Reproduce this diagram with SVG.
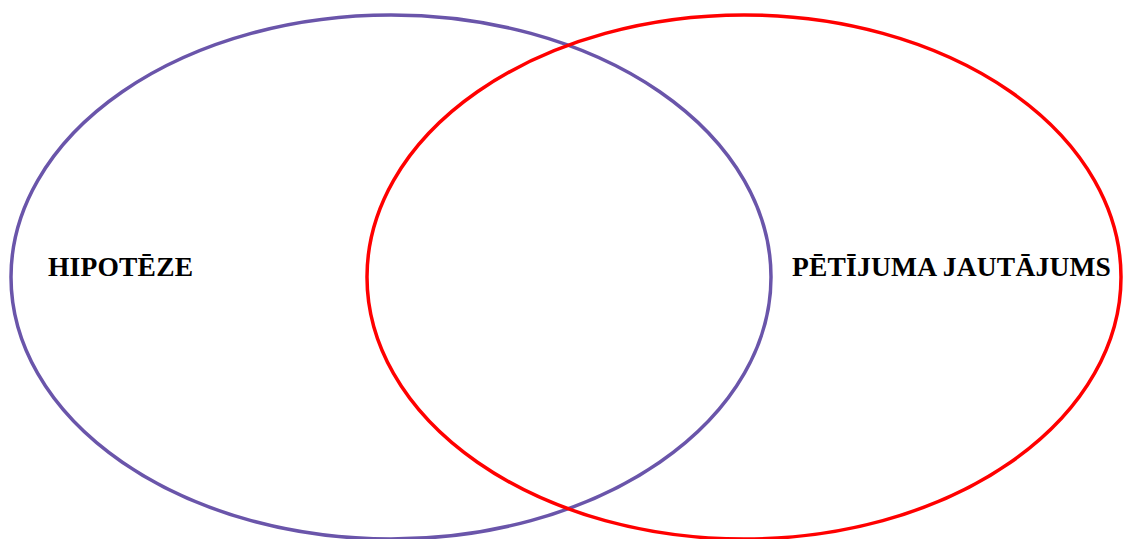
<svg xmlns="http://www.w3.org/2000/svg" width="1123" height="539" viewBox="0 0 1123 539">
<style>
.lbl{font-family:"Liberation Serif","Times New Roman",serif;font-weight:bold;font-size:27.5px;letter-spacing:0.2px;fill:#000}
.ring{fill:none;stroke-width:3.5}
</style>
<rect width="1123" height="539" fill="#fff"/>
<g id="hipoteze">
<ellipse class="ring" cx="391" cy="277" rx="380" ry="262" stroke="#6a55aa"/>
<text class="lbl" x="48" y="276">HIPOTĒZE</text>
</g>
<g id="jautajums">
<ellipse class="ring" cx="744" cy="277" rx="377" ry="262" stroke="#ff0000"/>
<text class="lbl" x="792" y="276">PĒTĪJUMA JAUTĀJUMS</text>
</g>
<g id="connectors"/>
</svg>
